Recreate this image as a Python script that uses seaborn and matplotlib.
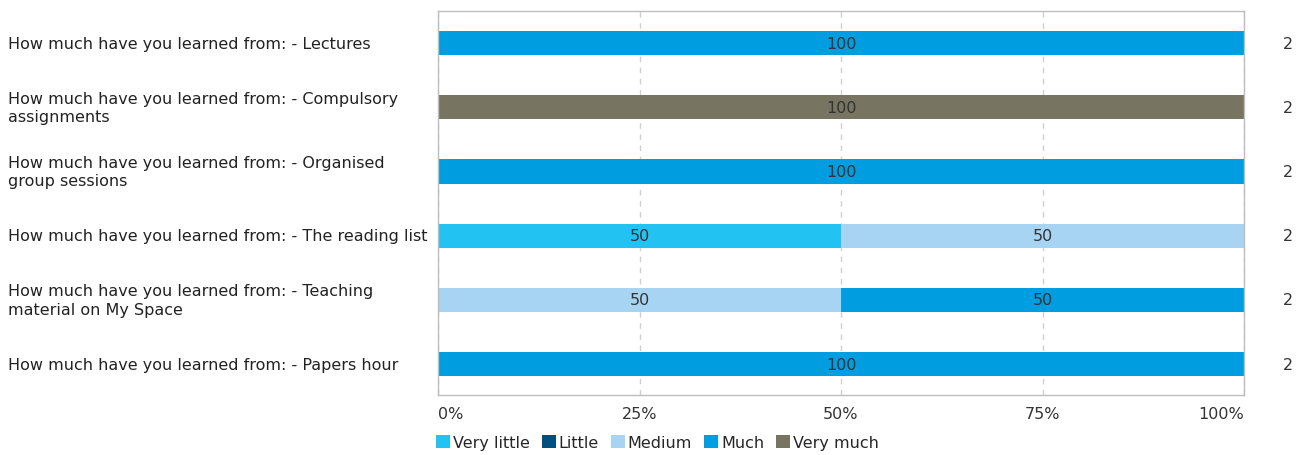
import numpy as np
import pandas as pd
import seaborn as sns
import matplotlib.pyplot as plt
from matplotlib.patches import Patch
from matplotlib.transforms import blended_transform_factory

questions = [
    "How much have you learned from: - Lectures",
    "How much have you learned from: - Compulsory\nassignments",
    "How much have you learned from: - Organised\ngroup sessions",
    "How much have you learned from: - The reading list",
    "How much have you learned from: - Teaching\nmaterial on My Space",
    "How much have you learned from: - Papers hour",
]
levels = ["Very little", "Little", "Medium", "Much", "Very much"]
very_little = [0, 0, 0, 50, 0, 0]
little = [0, 0, 0, 0, 0, 0]
medium = [0, 0, 0, 50, 50, 0]
much = [100, 0, 100, 0, 50, 100]
very_much = [0, 100, 0, 0, 0, 0]
counts = [2, 2, 2, 2, 2, 2]

colors = ["#22c3f3", "#00507f", "#a8d4f4", "#009ee0", "#777561"]

sns.set_style("white")
plt.rcParams['font.family'] = ['DejaVu Sans']
FS = 11.5

df = pd.DataFrame({"question": questions, "Very little": very_little, "Little": little,
                   "Medium": medium, "Much": much, "Very much": very_much})
cum = df[levels].cumsum(axis=1)

fig = plt.figure(figsize=(13.06, 4.56), dpi=100)
ax = fig.add_axes([438 / 1306, 1 - 396 / 456, 806 / 1306, 384 / 456])

# stacked bars by overlaying cumulative totals, widest first
for lvl, col in reversed(list(zip(levels, colors))):
    sns.barplot(x=cum[lvl], y=df["question"], color=col, orient="h", width=0.375,
                saturation=1, linewidth=0, ax=ax, zorder=2)

# segment labels
for i in range(len(questions)):
    left = 0
    for lvl in levels:
        v = df[lvl][i]
        if v > 0:
            ax.text(left + v / 2, i, f"{v}", ha="center", va="center", fontsize=FS,
                    color="#333333", zorder=3)
        left += v

ax.set_xlim(0, 100)
ax.set_ylim(len(questions) - 0.52, -0.5)
ax.set_xticks([0, 25, 50, 75, 100])
ax.set_xticklabels(["0%", "25%", "50%", "75%", "100%"], fontsize=FS, color="#333333")
xt = ax.get_xticklabels()
xt[0].set_ha("left")
xt[-1].set_ha("right")
ax.tick_params(axis="x", length=0, pad=8)
ax.xaxis.grid(True, linestyle=(0, (4, 4)), color="#d0d0d0", linewidth=1, zorder=0)
ax.set_axisbelow(True)
ax.set_xlabel("")
ax.set_ylabel("")
ax.set_yticks(range(len(questions)))
ax.set_yticklabels([])
ax.tick_params(axis="y", length=0)
for s in ax.spines.values():
    s.set_color("#bdbdbd")
    s.set_linewidth(1)

tr_left = blended_transform_factory(fig.transFigure, ax.transData)
for i, q in enumerate(questions):
    ax.text(8 / 1306, i, q, transform=tr_left, ha="left", va="center", fontsize=FS,
            color="#222222", linespacing=1.3)

tr_right = blended_transform_factory(fig.transFigure, ax.transData)
for i, c in enumerate(counts):
    ax.text(1288 / 1306, i, str(c), transform=tr_right, ha="center", va="center",
            fontsize=FS, color="#333333")

handles = [Patch(facecolor=c, edgecolor="none", label=l) for l, c in zip(levels, colors)]
ax.legend(handles=handles, loc="upper left", bbox_to_anchor=(-0.002, -0.105), ncol=5,
          frameon=False, fontsize=FS, handlelength=0.85, handleheight=0.85,
          handletextpad=0.2, columnspacing=0.75, borderaxespad=0, borderpad=0)

fig.savefig("out.png", dpi=100)
